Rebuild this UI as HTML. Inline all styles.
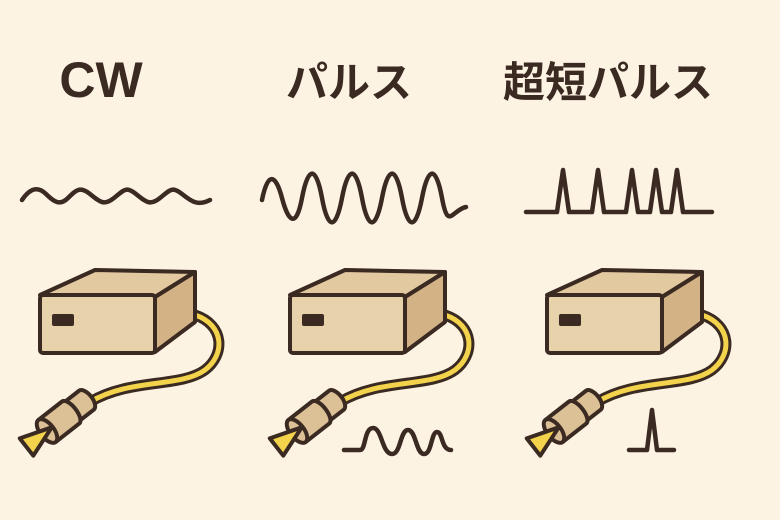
<!DOCTYPE html>
<html><head><meta charset="utf-8"><style>
html,body{margin:0;padding:0;background:#fdf3e3;}
svg{display:block}
</style></head><body>
<svg width="780" height="520" viewBox="0 0 780 520" xmlns="http://www.w3.org/2000/svg">
<rect width="780" height="520" fill="#fdf3e3"/>
<g fill="#3a2a22" font-weight="bold">
<text x="101" y="97" font-family="Liberation Sans, sans-serif" font-size="50" text-anchor="middle">CW</text>
<text x="349" y="97" font-family="Liberation Sans, Noto Sans CJK JP, sans-serif" font-size="42" text-anchor="middle">パルス</text>
<text x="608" y="97" font-family="Liberation Sans, Noto Sans CJK JP, sans-serif" font-size="42" text-anchor="middle">超短パルス</text>
</g>
<g fill="none" stroke="#3a2a22" stroke-width="4.5" stroke-linecap="round" stroke-linejoin="round">
<path d="M22 200 C30 188 38 186 46 194 S60 206 68 198 S80 186 90 194 S104 206 114 198 S126 186 136 194 S150 206 160 198 S172 186 182 194 S198 206 210 200"/>
<path d="M262 200 C268 170 276 175 282 198 S296 230 302 198 S316 165 322 198 S336 230 342 198 S356 165 362 198 S376 230 382 198 S396 165 402 198 S416 230 422 198 S436 165 442 198 S452 210 466 207"/>
<path d="M526 212 L557 212 L563 170 L569 212 L592 212 L598 170 L604 212 L626 212 L632 170 L638 212 L650 212 L656 170 L662 212 L671 212 L677 170 L683 212 L712 212"/>
<path d="M344 450 L360 450 C366 450 364 428 373 428 C382 428 382 454 392 454 C401 454 400 430 408 430 C416 430 416 454 424 454 C432 454 431 432 437 432 C443 432 441 450 451 450"/>
<path d="M629 450 L647 450 L652 410 L657 450 L674 450"/>
</g>
<defs>
<g id="laser" stroke="#3a2a22" stroke-width="4" stroke-linejoin="round" stroke-linecap="round">
<path d="M195 315 C225 325 225 355 205 370 C180 388 130 378 90 402" fill="none" stroke="#3a2a22" stroke-width="11"/>
<path d="M195 315 C225 325 225 355 205 370 C180 388 130 378 90 402" fill="none" stroke="#f2d34b" stroke-width="5"/>
<path d="M40 295 L95 270 L195 272 L155 297 Z" fill="#e2c9a0"/>
<path d="M155 297 L195 272 L195 322 L155 352 Z" fill="#d3b386"/>
<rect x="40" y="295" width="115" height="58" rx="3" fill="#e8d2ab"/>
<rect x="52" y="314" width="22" height="12" rx="2" fill="#3a2a22" stroke="none"/>
<g transform="translate(47,431) rotate(-38)">
<path d="M28 -12 L50 -12 A6 12 0 0 1 50 12 L28 12 Z" fill="#dcc197"/>
<path d="M0 -14 L30 -14 A6 14 0 0 1 30 14 L0 14 Z" fill="#dcc197"/>
<ellipse cx="0" cy="0" rx="7" ry="14" fill="#dcc197"/>
<path d="M6 0 L-26 -11 L-26 11 Z" fill="#f2d34b"/>
</g>
</g>
</defs>
<use href="#laser"/>
<use href="#laser" x="250"/>
<use href="#laser" x="507"/>
</svg>
</body></html>
